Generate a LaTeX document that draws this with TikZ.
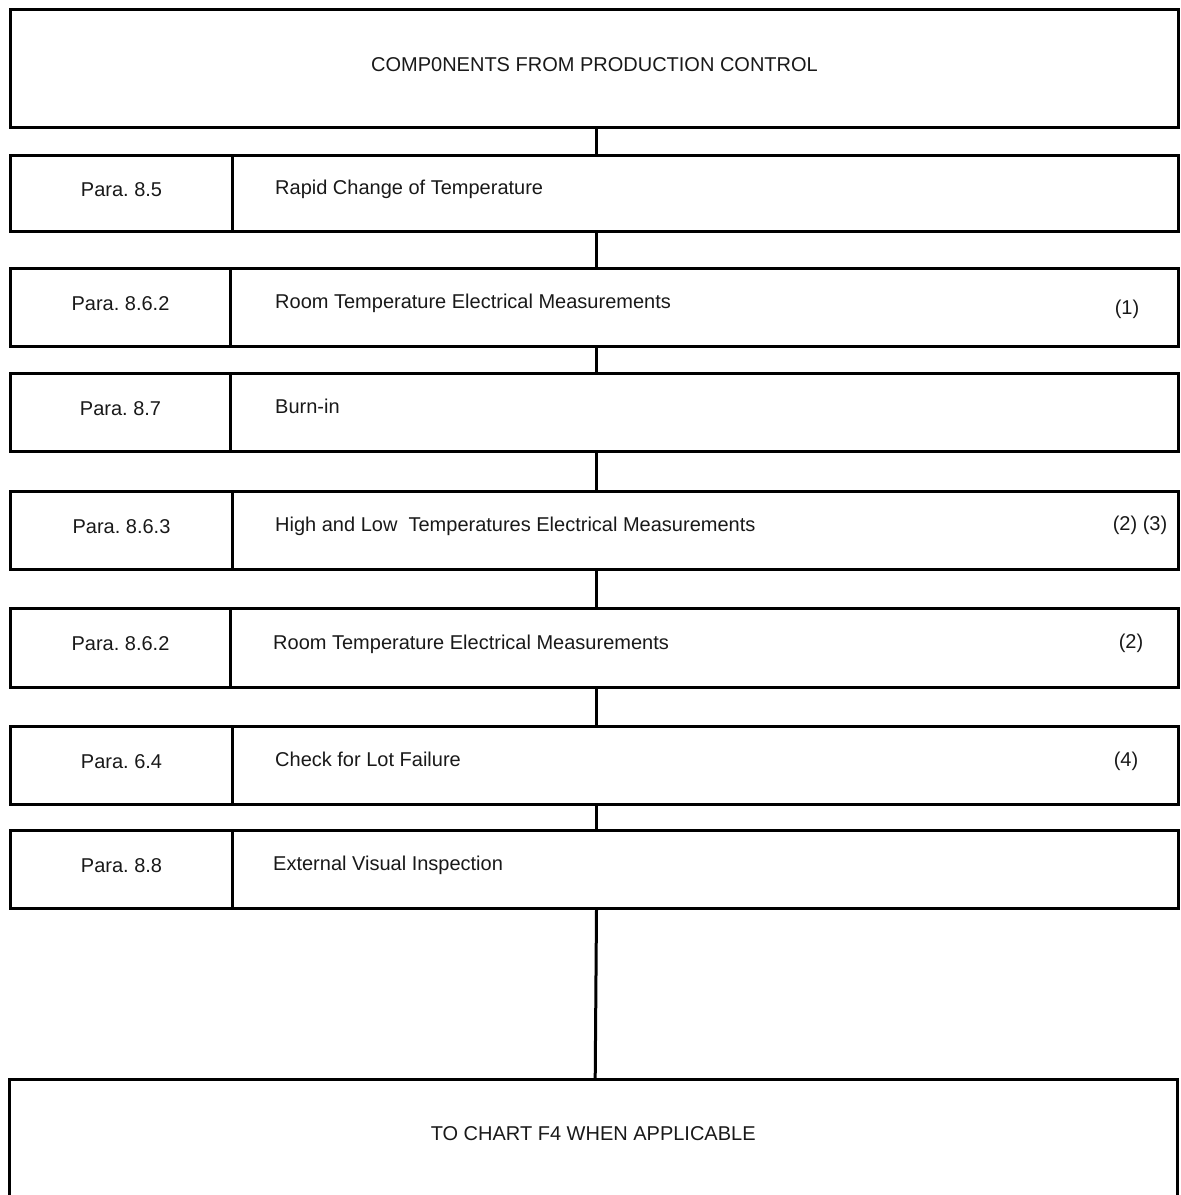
\documentclass[tikz,border=0pt]{standalone}
\usepackage{fontspec}
\setmainfont{Liberation Sans}
\frenchspacing
\begin{document}
\begin{tikzpicture}[x=1pt,y=-1pt,
  frame/.style={draw=black, line width=3pt, rectangle, inner sep=0pt, anchor=north west, minimum width=1168pt},
  cell/.style={draw=black, line width=3pt, rectangle, inner sep=0pt, anchor=north west,
    font=\fontsize{20}{24}\selectfont, text=black!90, text height=14pt, text depth=8.5pt},
  txt/.style={font=\fontsize{20}{24}\selectfont, text=black!90, inner sep=0pt, text height=14pt, text depth=8.5pt},
  note/.style={font=\fontsize{20}{24}\selectfont, text=black!90, inner sep=0pt, text height=14pt, text depth=0pt},
  conn/.style={draw=black, line width=3pt}
]
\useasboundingbox (0,0) rectangle (1181,1195);
% top box
\node[frame, minimum height=118pt, txt] (top) at (9,8) {COMP0NENTS FROM PRODUCTION CONTROL};
% rows
\node[frame, minimum height=76pt] (r2) at (9,154) {};
\node[cell, minimum width=222pt, minimum height=76pt] (p2) at (9,154) {Para. 8.5};
\node[txt, anchor=west] (s2) at (275,192) {Rapid Change of Temperature};

\node[frame, minimum height=78pt] (r3) at (9,267) {};
\node[cell, minimum width=220pt, minimum height=78pt] (p3) at (9,267) {Para. 8.6.2};
\node[txt, anchor=west] (s3) at (275,306) {Room Temperature Electrical Measurements};
\node[note] (n3) at (1127,307) {(1)};

\node[frame, minimum height=78pt] (r4) at (9,372) {};
\node[cell, minimum width=220pt, minimum height=78pt] (p4) at (9,372) {Para. 8.7};
\node[txt, anchor=west] (s4) at (275,411) {Burn-in};

\node[frame, minimum height=78pt] (r5) at (9,490) {};
\node[cell, minimum width=222pt, minimum height=78pt] (p5) at (9,490) {Para. 8.6.3};
\node[txt, anchor=west] (s5) at (275,529) {High and Low\ \ Temperatures Electrical Measurements};
\node[note] (n5) at (1140,523) {(2) (3)};

\node[frame, minimum height=79pt] (r6) at (9,607) {};
\node[cell, minimum width=220pt, minimum height=79pt] (p6) at (9,607) {Para. 8.6.2};
\node[txt, anchor=west] (s6) at (273,646.5) {Room Temperature Electrical Measurements};
\node[note] (n6) at (1131,641) {(2)};

\node[frame, minimum height=78pt] (r7) at (9,725) {};
\node[cell, minimum width=222pt, minimum height=78pt] (p7) at (9,725) {Para. 6.4};
\node[txt, anchor=west] (s7) at (275,764) {Check for Lot Failure};
\node[note] (n7) at (1126,759) {(4)};

\node[frame, minimum height=78pt] (r8) at (9,829) {};
\node[cell, minimum width=222pt, minimum height=78pt] (p8) at (9,829) {Para. 8.8};
\node[txt, anchor=west] (s8) at (273,868) {External Visual Inspection};

% bottom box (open at page bottom)
\node[txt, anchor=north west, minimum width=1168pt, minimum height=118pt] (chart) at (9,1079) {TO CHART F4 WHEN APPLICABLE};
\draw[conn] (chart.south west) -- (chart.north west) -- (chart.north east) -- (chart.south east);

% connectors
\draw[conn] ([xshift=2pt]top.south) -- ([xshift=2pt]r2.north);
\draw[conn] ([xshift=2pt]r2.south) -- ([xshift=2pt]r3.north);
\draw[conn] ([xshift=2pt]r3.south) -- ([xshift=2pt]r4.north);
\draw[conn] ([xshift=2pt]r4.south) -- ([xshift=2pt]r5.north);
\draw[conn] ([xshift=2pt]r5.south) -- ([xshift=2pt]r6.north);
\draw[conn] ([xshift=2pt]r6.south) -- ([xshift=2pt]r7.north);
\draw[conn] ([xshift=2pt]r7.south) -- ([xshift=2pt]r8.north);
\draw[conn] ([xshift=2pt]r8.south) -- ([xshift=2pt]chart.north);
\end{tikzpicture}
\end{document}
